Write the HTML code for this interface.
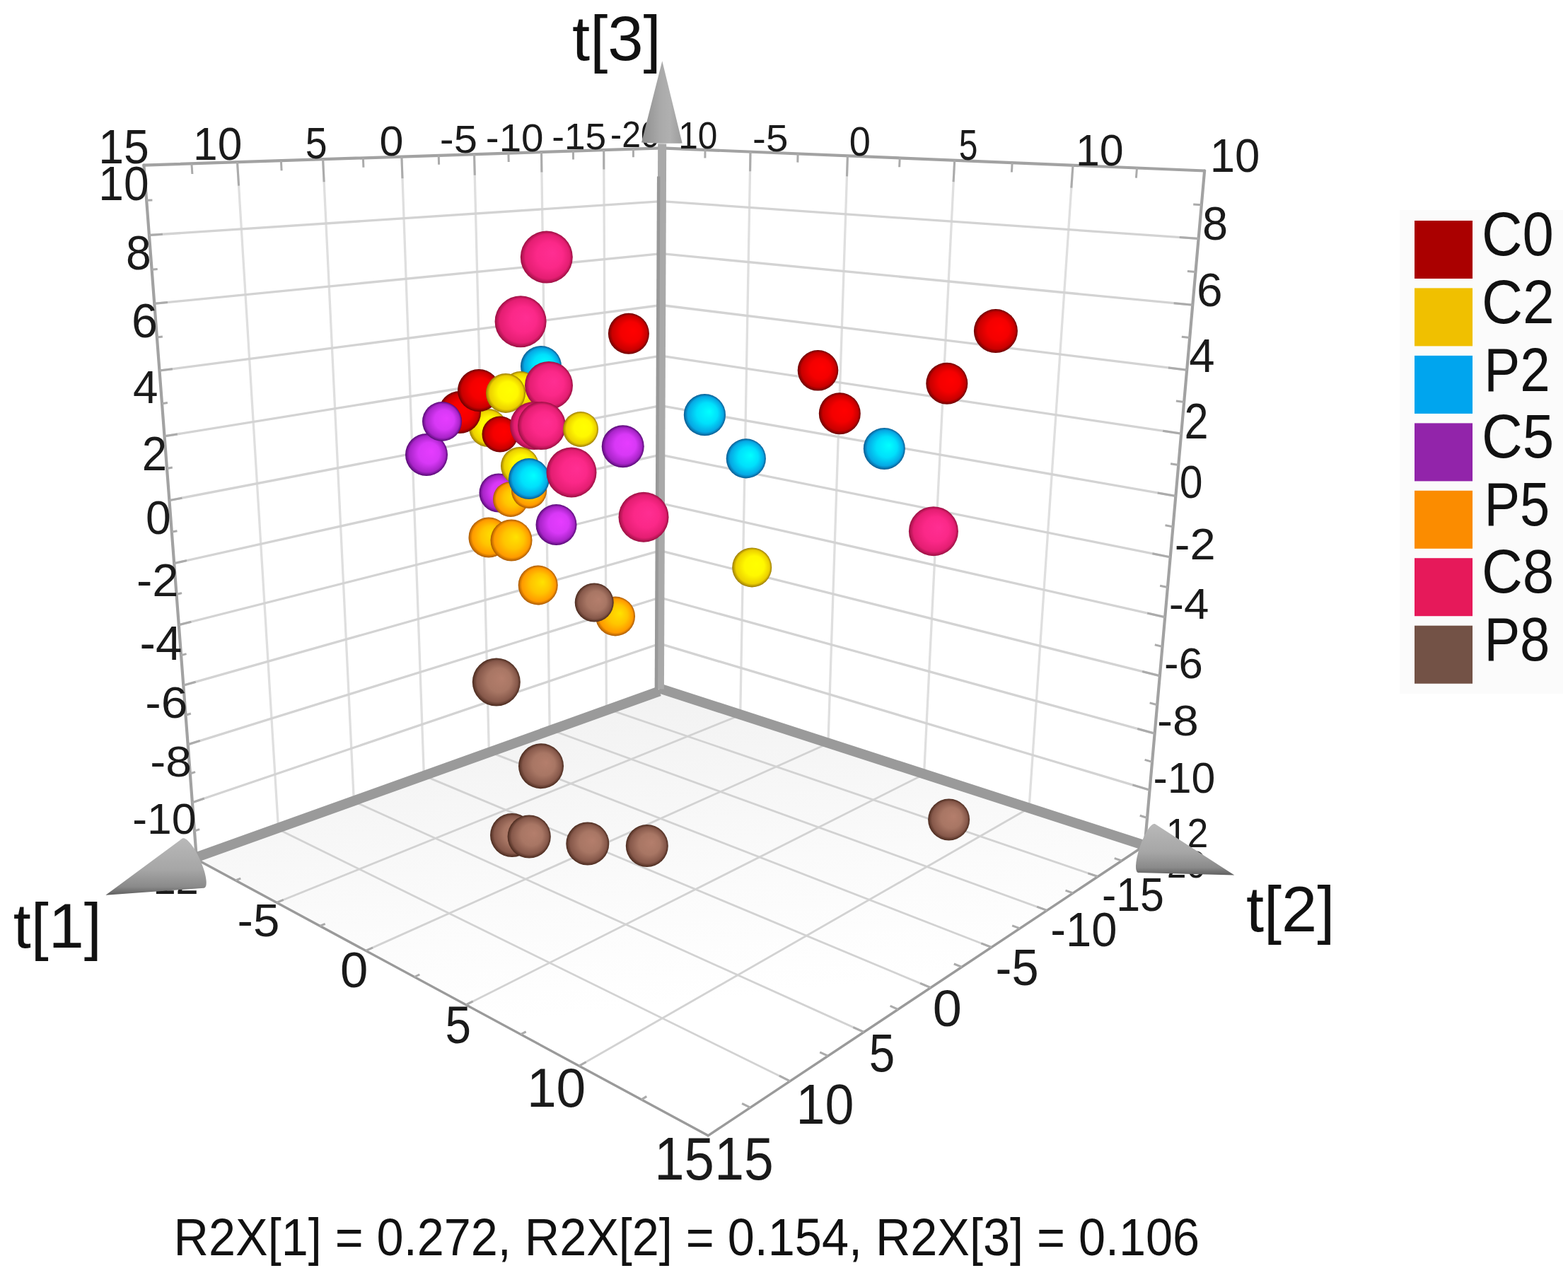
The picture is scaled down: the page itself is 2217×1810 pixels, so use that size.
<!DOCTYPE html>
<html><head><meta charset="utf-8"><title>3D score plot</title>
<style>html,body{margin:0;padding:0;background:#fff;} svg{display:block;} text{font-family:"Liberation Sans",Arial,sans-serif;}</style>
</head><body>
<svg width="2217" height="1810" viewBox="0 0 2217 1810">
<defs>
<linearGradient id="floorg" gradientUnits="userSpaceOnUse" x1="932.4" y1="974.4" x2="1001.2" y2="1605.8"><stop offset="0" stop-color="#f2f2f2"/><stop offset="0.45" stop-color="#fbfbfb"/><stop offset="0.7" stop-color="#ffffff"/></linearGradient>
<linearGradient id="cg1" x1="0" y1="0" x2="0" y2="1"><stop offset="0" stop-color="#b9b9b9"/><stop offset="0.55" stop-color="#a6a6a6"/><stop offset="0.85" stop-color="#8a8a8a"/><stop offset="1" stop-color="#5e5e5e"/></linearGradient>
<linearGradient id="cg2" x1="0" y1="0" x2="0" y2="1"><stop offset="0" stop-color="#b9b9b9"/><stop offset="0.55" stop-color="#a6a6a6"/><stop offset="0.85" stop-color="#8a8a8a"/><stop offset="1" stop-color="#5e5e5e"/></linearGradient>
<linearGradient id="cg3" x1="0" y1="0" x2="1" y2="0"><stop offset="0" stop-color="#8e8e8e"/><stop offset="0.45" stop-color="#a9a9a9"/><stop offset="0.7" stop-color="#b0b0b0"/><stop offset="1" stop-color="#9c9c9c"/></linearGradient>
<radialGradient id="gC0" cx="0.5" cy="0.5" r="0.5" fx="0.62" fy="0.42"><stop offset="0" stop-color="#ff0000"/><stop offset="0.5" stop-color="#f40000"/><stop offset="0.85" stop-color="#c80000"/><stop offset="1" stop-color="#6a0000"/></radialGradient>
<radialGradient id="gC2" cx="0.5" cy="0.5" r="0.5" fx="0.62" fy="0.42"><stop offset="0" stop-color="#ffff00"/><stop offset="0.5" stop-color="#fff800"/><stop offset="0.85" stop-color="#ecd000"/><stop offset="1" stop-color="#9a7a00"/></radialGradient>
<radialGradient id="gP2" cx="0.5" cy="0.5" r="0.5" fx="0.62" fy="0.42"><stop offset="0" stop-color="#00ffff"/><stop offset="0.5" stop-color="#00e0fc"/><stop offset="0.85" stop-color="#06a8e4"/><stop offset="1" stop-color="#0a5a90"/></radialGradient>
<radialGradient id="gC5" cx="0.5" cy="0.5" r="0.5" fx="0.62" fy="0.42"><stop offset="0" stop-color="#e63cff"/><stop offset="0.5" stop-color="#d838f6"/><stop offset="0.85" stop-color="#a824c8"/><stop offset="1" stop-color="#560a74"/></radialGradient>
<radialGradient id="gP5" cx="0.5" cy="0.5" r="0.5" fx="0.62" fy="0.42"><stop offset="0" stop-color="#ffe200"/><stop offset="0.5" stop-color="#ffc400"/><stop offset="0.85" stop-color="#ff9a00"/><stop offset="1" stop-color="#a85800"/></radialGradient>
<radialGradient id="gC8" cx="0.5" cy="0.5" r="0.5" fx="0.62" fy="0.42"><stop offset="0" stop-color="#ff2e92"/><stop offset="0.5" stop-color="#fb2888"/><stop offset="0.85" stop-color="#e41e72"/><stop offset="1" stop-color="#9a1042"/></radialGradient>
<radialGradient id="gP8" cx="0.5" cy="0.5" r="0.5" fx="0.62" fy="0.42"><stop offset="0" stop-color="#b47e6c"/><stop offset="0.5" stop-color="#a87664"/><stop offset="0.85" stop-color="#86584a"/><stop offset="1" stop-color="#4a2a1e"/></radialGradient>
</defs>
<rect width="2217" height="1810" fill="#ffffff"/>
<polygon points="932.4,974.4 278.0,1215.2 1001.2,1605.8 1618.6,1195.5" fill="url(#floorg)"/>
<line x1="393.6" y1="1172.7" x2="335.5" y2="229.2" stroke="#dfdfdf" stroke-width="3.3"/>
<line x1="500.4" y1="1133.4" x2="456.6" y2="225.2" stroke="#dfdfdf" stroke-width="3.3"/>
<line x1="599.4" y1="1096.9" x2="567.9" y2="221.5" stroke="#dfdfdf" stroke-width="3.3"/>
<line x1="691.4" y1="1063.1" x2="670.5" y2="218.2" stroke="#dfdfdf" stroke-width="3.3"/>
<line x1="777.2" y1="1031.5" x2="765.5" y2="215.0" stroke="#dfdfdf" stroke-width="3.3"/>
<line x1="857.4" y1="1002.0" x2="853.7" y2="212.1" stroke="#dfdfdf" stroke-width="3.3"/>
<line x1="271.9" y1="1134.8" x2="932.7" y2="910.2" stroke="#d3d3d3" stroke-width="3.3"/>
<line x1="265.7" y1="1052.8" x2="933.0" y2="845.0" stroke="#d3d3d3" stroke-width="3.3"/>
<line x1="259.3" y1="969.1" x2="933.3" y2="778.7" stroke="#d3d3d3" stroke-width="3.3"/>
<line x1="252.8" y1="883.7" x2="933.6" y2="711.5" stroke="#d3d3d3" stroke-width="3.3"/>
<line x1="246.2" y1="796.6" x2="933.9" y2="643.2" stroke="#d3d3d3" stroke-width="3.3"/>
<line x1="239.4" y1="707.6" x2="934.2" y2="573.7" stroke="#d3d3d3" stroke-width="3.3"/>
<line x1="232.5" y1="616.8" x2="934.5" y2="503.2" stroke="#d3d3d3" stroke-width="3.3"/>
<line x1="225.5" y1="524.1" x2="934.8" y2="431.5" stroke="#d3d3d3" stroke-width="3.3"/>
<line x1="218.3" y1="429.3" x2="935.1" y2="358.7" stroke="#d3d3d3" stroke-width="3.3"/>
<line x1="210.9" y1="332.5" x2="935.4" y2="284.7" stroke="#d3d3d3" stroke-width="3.3"/>
<line x1="1046.7" y1="1011.2" x2="1061.0" y2="214.6" stroke="#dfdfdf" stroke-width="3.3"/>
<line x1="1170.9" y1="1051.2" x2="1198.4" y2="220.4" stroke="#dfdfdf" stroke-width="3.3"/>
<line x1="1306.5" y1="1094.9" x2="1349.7" y2="226.7" stroke="#dfdfdf" stroke-width="3.3"/>
<line x1="1455.0" y1="1142.8" x2="1517.0" y2="233.7" stroke="#dfdfdf" stroke-width="3.3"/>
<line x1="932.7" y1="910.2" x2="1625.5" y2="1117.1" stroke="#d3d3d3" stroke-width="3.3"/>
<line x1="933.0" y1="845.0" x2="1632.6" y2="1037.2" stroke="#d3d3d3" stroke-width="3.3"/>
<line x1="933.3" y1="778.7" x2="1639.8" y2="955.7" stroke="#d3d3d3" stroke-width="3.3"/>
<line x1="933.6" y1="711.5" x2="1647.2" y2="872.7" stroke="#d3d3d3" stroke-width="3.3"/>
<line x1="933.9" y1="643.2" x2="1654.7" y2="787.9" stroke="#d3d3d3" stroke-width="3.3"/>
<line x1="934.2" y1="573.7" x2="1662.4" y2="701.4" stroke="#d3d3d3" stroke-width="3.3"/>
<line x1="934.5" y1="503.2" x2="1670.2" y2="613.2" stroke="#d3d3d3" stroke-width="3.3"/>
<line x1="934.8" y1="431.5" x2="1678.2" y2="523.2" stroke="#d3d3d3" stroke-width="3.3"/>
<line x1="935.1" y1="358.7" x2="1686.3" y2="431.2" stroke="#d3d3d3" stroke-width="3.3"/>
<line x1="935.4" y1="284.7" x2="1694.6" y2="337.4" stroke="#d3d3d3" stroke-width="3.3"/>
<line x1="393.6" y1="1172.7" x2="1117.1" y2="1528.8" stroke="#d2d2d2" stroke-width="2.8"/>
<line x1="500.4" y1="1133.4" x2="1221.4" y2="1459.4" stroke="#d2d2d2" stroke-width="2.8"/>
<line x1="599.4" y1="1096.9" x2="1315.9" y2="1396.6" stroke="#d2d2d2" stroke-width="2.8"/>
<line x1="691.4" y1="1063.1" x2="1401.8" y2="1339.5" stroke="#d2d2d2" stroke-width="2.8"/>
<line x1="777.2" y1="1031.5" x2="1480.3" y2="1287.4" stroke="#d2d2d2" stroke-width="2.8"/>
<line x1="857.4" y1="1002.0" x2="1552.3" y2="1239.5" stroke="#d2d2d2" stroke-width="2.8"/>
<line x1="391.1" y1="1276.3" x2="1046.7" y2="1011.2" stroke="#d2d2d2" stroke-width="2.8"/>
<line x1="517.2" y1="1344.4" x2="1170.9" y2="1051.2" stroke="#d2d2d2" stroke-width="2.8"/>
<line x1="658.8" y1="1420.9" x2="1306.5" y2="1094.9" stroke="#d2d2d2" stroke-width="2.8"/>
<line x1="818.8" y1="1507.3" x2="1455.0" y2="1142.8" stroke="#d2d2d2" stroke-width="2.8"/>
<line x1="203.4" y1="233.6" x2="935.7" y2="209.4" stroke="#a2a2a2" stroke-width="4.2" stroke-linecap="round"/>
<line x1="278.0" y1="1215.2" x2="203.4" y2="233.6" stroke="#a2a2a2" stroke-width="4.2" stroke-linecap="round"/>
<line x1="935.7" y1="209.4" x2="1703.1" y2="241.5" stroke="#a2a2a2" stroke-width="4.2" stroke-linecap="round"/>
<line x1="1618.6" y1="1195.5" x2="1703.1" y2="241.5" stroke="#a2a2a2" stroke-width="4.2" stroke-linecap="round"/>
<line x1="278.0" y1="1215.2" x2="1001.2" y2="1605.8" stroke="#9a9a9a" stroke-width="3.4" stroke-linecap="round"/>
<line x1="1001.2" y1="1605.8" x2="1618.6" y2="1195.5" stroke="#9a9a9a" stroke-width="3.4" stroke-linecap="round"/>
<line x1="270.9" y1="231.4" x2="271.9" y2="246.0" stroke="#ababab" stroke-width="3"/>
<line x1="335.5" y1="229.2" x2="337.6" y2="262.6" stroke="#ababab" stroke-width="3"/>
<line x1="397.4" y1="227.2" x2="398.1" y2="241.2" stroke="#ababab" stroke-width="3"/>
<line x1="456.6" y1="225.2" x2="458.1" y2="257.2" stroke="#ababab" stroke-width="3"/>
<line x1="513.4" y1="223.4" x2="513.9" y2="236.8" stroke="#ababab" stroke-width="3"/>
<line x1="567.9" y1="221.5" x2="569.0" y2="252.3" stroke="#ababab" stroke-width="3"/>
<line x1="620.2" y1="219.8" x2="620.6" y2="232.7" stroke="#ababab" stroke-width="3"/>
<line x1="670.5" y1="218.2" x2="671.3" y2="247.7" stroke="#ababab" stroke-width="3"/>
<line x1="718.9" y1="216.6" x2="719.2" y2="229.0" stroke="#ababab" stroke-width="3"/>
<line x1="765.5" y1="215.0" x2="765.9" y2="243.5" stroke="#ababab" stroke-width="3"/>
<line x1="810.4" y1="213.5" x2="810.5" y2="225.5" stroke="#ababab" stroke-width="3"/>
<line x1="853.7" y1="212.1" x2="853.8" y2="239.5" stroke="#ababab" stroke-width="3"/>
<line x1="895.4" y1="210.7" x2="895.4" y2="222.3" stroke="#ababab" stroke-width="3"/>
<line x1="207.2" y1="283.3" x2="215.4" y2="282.9" stroke="#ababab" stroke-width="3"/>
<line x1="210.9" y1="332.5" x2="229.9" y2="331.3" stroke="#ababab" stroke-width="3"/>
<line x1="214.6" y1="381.2" x2="222.7" y2="380.5" stroke="#ababab" stroke-width="3"/>
<line x1="218.3" y1="429.3" x2="237.0" y2="427.5" stroke="#ababab" stroke-width="3"/>
<line x1="221.9" y1="477.0" x2="229.9" y2="476.0" stroke="#ababab" stroke-width="3"/>
<line x1="225.5" y1="524.1" x2="243.9" y2="521.7" stroke="#ababab" stroke-width="3"/>
<line x1="229.0" y1="570.7" x2="236.9" y2="569.5" stroke="#ababab" stroke-width="3"/>
<line x1="232.5" y1="616.8" x2="250.8" y2="613.9" stroke="#ababab" stroke-width="3"/>
<line x1="236.0" y1="662.5" x2="243.8" y2="661.1" stroke="#ababab" stroke-width="3"/>
<line x1="239.4" y1="707.6" x2="257.4" y2="704.2" stroke="#ababab" stroke-width="3"/>
<line x1="242.8" y1="752.3" x2="250.5" y2="750.7" stroke="#ababab" stroke-width="3"/>
<line x1="246.2" y1="796.6" x2="264.0" y2="792.6" stroke="#ababab" stroke-width="3"/>
<line x1="249.5" y1="840.4" x2="257.1" y2="838.6" stroke="#ababab" stroke-width="3"/>
<line x1="252.8" y1="883.7" x2="270.4" y2="879.3" stroke="#ababab" stroke-width="3"/>
<line x1="256.1" y1="926.6" x2="263.6" y2="924.6" stroke="#ababab" stroke-width="3"/>
<line x1="259.3" y1="969.1" x2="276.7" y2="964.2" stroke="#ababab" stroke-width="3"/>
<line x1="262.5" y1="1011.2" x2="269.9" y2="1009.0" stroke="#ababab" stroke-width="3"/>
<line x1="265.7" y1="1052.8" x2="282.8" y2="1047.4" stroke="#ababab" stroke-width="3"/>
<line x1="268.8" y1="1094.0" x2="276.1" y2="1091.6" stroke="#ababab" stroke-width="3"/>
<line x1="271.9" y1="1134.8" x2="288.8" y2="1129.0" stroke="#ababab" stroke-width="3"/>
<line x1="275.0" y1="1175.2" x2="282.2" y2="1172.6" stroke="#ababab" stroke-width="3"/>
<line x1="997.0" y1="212.0" x2="996.9" y2="223.6" stroke="#ababab" stroke-width="3"/>
<line x1="1061.0" y1="214.6" x2="1060.6" y2="242.3" stroke="#ababab" stroke-width="3"/>
<line x1="1128.1" y1="217.4" x2="1127.8" y2="229.6" stroke="#ababab" stroke-width="3"/>
<line x1="1198.4" y1="220.4" x2="1197.5" y2="249.4" stroke="#ababab" stroke-width="3"/>
<line x1="1272.2" y1="223.5" x2="1271.6" y2="236.2" stroke="#ababab" stroke-width="3"/>
<line x1="1349.7" y1="226.7" x2="1348.1" y2="257.1" stroke="#ababab" stroke-width="3"/>
<line x1="1431.2" y1="230.1" x2="1430.4" y2="243.5" stroke="#ababab" stroke-width="3"/>
<line x1="1517.0" y1="233.7" x2="1514.8" y2="265.7" stroke="#ababab" stroke-width="3"/>
<line x1="1607.5" y1="237.5" x2="1606.4" y2="251.6" stroke="#ababab" stroke-width="3"/>
<line x1="1698.9" y1="289.7" x2="1687.2" y2="289.0" stroke="#ababab" stroke-width="3"/>
<line x1="1694.6" y1="337.4" x2="1667.7" y2="335.5" stroke="#ababab" stroke-width="3"/>
<line x1="1690.4" y1="384.5" x2="1678.9" y2="383.6" stroke="#ababab" stroke-width="3"/>
<line x1="1686.3" y1="431.2" x2="1659.7" y2="428.7" stroke="#ababab" stroke-width="3"/>
<line x1="1682.2" y1="477.4" x2="1670.8" y2="476.2" stroke="#ababab" stroke-width="3"/>
<line x1="1678.2" y1="523.2" x2="1651.9" y2="519.9" stroke="#ababab" stroke-width="3"/>
<line x1="1674.1" y1="568.4" x2="1662.9" y2="566.9" stroke="#ababab" stroke-width="3"/>
<line x1="1670.2" y1="613.2" x2="1644.2" y2="609.3" stroke="#ababab" stroke-width="3"/>
<line x1="1666.2" y1="657.5" x2="1655.1" y2="655.7" stroke="#ababab" stroke-width="3"/>
<line x1="1662.4" y1="701.4" x2="1636.7" y2="696.9" stroke="#ababab" stroke-width="3"/>
<line x1="1658.5" y1="744.9" x2="1647.5" y2="742.8" stroke="#ababab" stroke-width="3"/>
<line x1="1654.7" y1="787.9" x2="1629.4" y2="782.8" stroke="#ababab" stroke-width="3"/>
<line x1="1650.9" y1="830.5" x2="1640.1" y2="828.2" stroke="#ababab" stroke-width="3"/>
<line x1="1647.2" y1="872.7" x2="1622.2" y2="867.0" stroke="#ababab" stroke-width="3"/>
<line x1="1643.5" y1="914.4" x2="1632.8" y2="911.8" stroke="#ababab" stroke-width="3"/>
<line x1="1639.8" y1="955.7" x2="1615.1" y2="949.5" stroke="#ababab" stroke-width="3"/>
<line x1="1636.2" y1="996.7" x2="1625.6" y2="993.9" stroke="#ababab" stroke-width="3"/>
<line x1="1632.6" y1="1037.2" x2="1608.2" y2="1030.5" stroke="#ababab" stroke-width="3"/>
<line x1="1629.0" y1="1077.4" x2="1618.6" y2="1074.4" stroke="#ababab" stroke-width="3"/>
<line x1="1625.5" y1="1117.1" x2="1601.4" y2="1109.9" stroke="#ababab" stroke-width="3"/>
<line x1="1622.0" y1="1156.5" x2="1611.7" y2="1153.3" stroke="#ababab" stroke-width="3"/>
<line x1="333.1" y1="1244.9" x2="340.3" y2="1242.1" stroke="#ababab" stroke-width="3"/>
<line x1="391.1" y1="1276.3" x2="400.8" y2="1272.4" stroke="#ababab" stroke-width="3"/>
<line x1="452.4" y1="1309.4" x2="459.7" y2="1306.3" stroke="#ababab" stroke-width="3"/>
<line x1="517.2" y1="1344.4" x2="527.1" y2="1340.0" stroke="#ababab" stroke-width="3"/>
<line x1="585.9" y1="1381.5" x2="593.3" y2="1378.0" stroke="#ababab" stroke-width="3"/>
<line x1="658.8" y1="1420.9" x2="668.7" y2="1415.9" stroke="#ababab" stroke-width="3"/>
<line x1="736.3" y1="1462.7" x2="743.7" y2="1458.8" stroke="#ababab" stroke-width="3"/>
<line x1="818.8" y1="1507.3" x2="828.7" y2="1501.7" stroke="#ababab" stroke-width="3"/>
<line x1="906.9" y1="1554.9" x2="914.3" y2="1550.4" stroke="#ababab" stroke-width="3"/>
<line x1="1060.7" y1="1566.2" x2="1049.1" y2="1560.3" stroke="#ababab" stroke-width="3"/>
<line x1="1117.1" y1="1528.8" x2="1101.8" y2="1521.2" stroke="#ababab" stroke-width="3"/>
<line x1="1170.6" y1="1493.2" x2="1159.2" y2="1487.8" stroke="#ababab" stroke-width="3"/>
<line x1="1221.4" y1="1459.4" x2="1206.3" y2="1452.6" stroke="#ababab" stroke-width="3"/>
<line x1="1269.8" y1="1427.3" x2="1258.6" y2="1422.4" stroke="#ababab" stroke-width="3"/>
<line x1="1315.9" y1="1396.6" x2="1301.1" y2="1390.4" stroke="#ababab" stroke-width="3"/>
<line x1="1359.9" y1="1367.4" x2="1348.8" y2="1363.0" stroke="#ababab" stroke-width="3"/>
<line x1="1401.8" y1="1339.5" x2="1387.3" y2="1333.9" stroke="#ababab" stroke-width="3"/>
<line x1="1442.0" y1="1312.9" x2="1431.1" y2="1308.8" stroke="#ababab" stroke-width="3"/>
<line x1="1480.3" y1="1287.4" x2="1466.1" y2="1282.2" stroke="#ababab" stroke-width="3"/>
<line x1="1517.1" y1="1262.9" x2="1506.5" y2="1259.2" stroke="#ababab" stroke-width="3"/>
<line x1="1552.3" y1="1239.5" x2="1538.3" y2="1234.8" stroke="#ababab" stroke-width="3"/>
<line x1="1586.1" y1="1217.1" x2="1575.7" y2="1213.6" stroke="#ababab" stroke-width="3"/>
<text transform="translate(139.3,231.1) scale(0.938,1)" font-size="68.6" fill="#1a1a1a">15</text>
<text transform="translate(273.1,226.4) scale(0.956,1)" font-size="65.1" fill="#1a1a1a">10</text>
<text transform="translate(431.8,223.7) scale(0.894,1)" font-size="62.0" fill="#1a1a1a">5</text>
<text transform="translate(536.4,219.6) scale(1.022,1)" font-size="59.7" fill="#1a1a1a">0</text>
<text transform="translate(621.8,215.8) scale(1.082,1)" font-size="55.2" fill="#1a1a1a">-5</text>
<text transform="translate(686.8,214.0) scale(1.012,1)" font-size="55.9" fill="#1a1a1a">-10</text>
<text transform="translate(780.2,211.2) scale(1.012,1)" font-size="52.6" fill="#1a1a1a">-15</text>
<text transform="translate(863.1,208.4) scale(0.930,1)" font-size="51.8" fill="#1a1a1a">-20</text>
<text transform="translate(139.3,282.9) scale(0.946,1)" font-size="67.8" fill="#1a1a1a">10</text>
<text transform="translate(178.1,380.7) scale(0.931,1)" font-size="69.1" fill="#1a1a1a">8</text>
<text transform="translate(186.1,477.4) scale(0.969,1)" font-size="68.4" fill="#1a1a1a">6</text>
<text transform="translate(188.0,570.0) scale(0.972,1)" font-size="65.7" fill="#1a1a1a">4</text>
<text transform="translate(200.7,665.2) scale(0.917,1)" font-size="69.3" fill="#1a1a1a">2</text>
<text transform="translate(206.1,754.8) scale(0.972,1)" font-size="66.1" fill="#1a1a1a">0</text>
<text transform="translate(192.9,842.6) scale(1.032,1)" font-size="64.8" fill="#1a1a1a">-2</text>
<text transform="translate(197.6,932.9) scale(0.989,1)" font-size="68.0" fill="#1a1a1a">-4</text>
<text transform="translate(205.3,1015.1) scale(1.061,1)" font-size="63.6" fill="#1a1a1a">-6</text>
<text transform="translate(212.3,1098.0) scale(1.068,1)" font-size="61.9" fill="#1a1a1a">-8</text>
<text transform="translate(187.2,1178.7) scale(1.036,1)" font-size="60.3" fill="#1a1a1a">-10</text>
<text transform="translate(197.1,1263.5) scale(0.930,1)" font-size="62.3" fill="#1a1a1a">-12</text>
<text transform="translate(942.6,209.5) scale(0.930,1)" font-size="53.4" fill="#1a1a1a">-10</text>
<text transform="translate(1064.1,213.9) scale(1.040,1)" font-size="54.3" fill="#1a1a1a">-5</text>
<text transform="translate(1200.7,220.2) scale(0.959,1)" font-size="56.5" fill="#1a1a1a">0</text>
<text transform="translate(1355.7,225.7) scale(0.792,1)" font-size="60.5" fill="#1a1a1a">5</text>
<text transform="translate(1521.0,233.9) scale(0.971,1)" font-size="62.7" fill="#1a1a1a">10</text>
<text transform="translate(1710.8,242.6) scale(0.961,1)" font-size="66.1" fill="#1a1a1a">10</text>
<text transform="translate(1700.1,338.9) scale(0.981,1)" font-size="66.2" fill="#1a1a1a">8</text>
<text transform="translate(1692.1,432.7) scale(0.993,1)" font-size="66.2" fill="#1a1a1a">6</text>
<text transform="translate(1681.3,525.8) scale(0.985,1)" font-size="66.3" fill="#1a1a1a">4</text>
<text transform="translate(1674.5,619.8) scale(0.861,1)" font-size="71.1" fill="#1a1a1a">2</text>
<text transform="translate(1667.7,704.2) scale(0.905,1)" font-size="65.0" fill="#1a1a1a">0</text>
<text transform="translate(1660.8,791.2) scale(1.039,1)" font-size="62.6" fill="#1a1a1a">-2</text>
<text transform="translate(1652.8,875.3) scale(1.027,1)" font-size="61.9" fill="#1a1a1a">-4</text>
<text transform="translate(1646.0,958.8) scale(1.000,1)" font-size="61.7" fill="#1a1a1a">-6</text>
<text transform="translate(1636.0,1040.4) scale(1.098,1)" font-size="60.2" fill="#1a1a1a">-8</text>
<text transform="translate(1630.5,1121.1) scale(0.982,1)" font-size="61.9" fill="#1a1a1a">-10</text>
<text transform="translate(1630.8,1197.7) scale(0.930,1)" font-size="57.7" fill="#1a1a1a">-12</text>
<text transform="translate(335.5,1323.8) scale(1.046,1)" font-size="64.3" fill="#1a1a1a">-5</text>
<text transform="translate(481.1,1396.1) scale(1.013,1)" font-size="69.8" fill="#1a1a1a">0</text>
<text transform="translate(629.4,1475.1) scale(0.877,1)" font-size="74.8" fill="#1a1a1a">5</text>
<text transform="translate(744.9,1565.3) scale(0.963,1)" font-size="77.8" fill="#1a1a1a">10</text>
<text transform="translate(925.2,1668.1) scale(0.885,1)" font-size="86.0" fill="#1a1a1a">15</text>
<text transform="translate(1010.2,1668.1) scale(0.872,1)" font-size="86.0" fill="#1a1a1a">15</text>
<text transform="translate(1125.6,1588.7) scale(0.922,1)" font-size="79.8" fill="#1a1a1a">10</text>
<text transform="translate(1228.8,1515.3) scale(0.854,1)" font-size="76.8" fill="#1a1a1a">5</text>
<text transform="translate(1318.7,1450.5) scale(1.029,1)" font-size="71.8" fill="#1a1a1a">0</text>
<text transform="translate(1407.6,1392.6) scale(0.942,1)" font-size="72.8" fill="#1a1a1a">-5</text>
<text transform="translate(1485.3,1337.6) scale(0.961,1)" font-size="67.8" fill="#1a1a1a">-10</text>
<text transform="translate(1557.9,1288.0) scale(0.923,1)" font-size="66.0" fill="#1a1a1a">-15</text>
<text transform="translate(1633.6,1241.0) scale(0.930,1)" font-size="53.0" fill="#1a1a1a">-20</text>
<line x1="932.4" y1="977.4" x2="278.0" y2="1212.2" stroke="#9a9a9a" stroke-width="14" stroke-linecap="butt"/>
<line x1="932.4" y1="973.4" x2="1618.6" y2="1195.5" stroke="#9a9a9a" stroke-width="14" stroke-linecap="butt"/>
<line x1="932.9" y1="974.4" x2="936.2" y2="203.4" stroke="#a9a9a9" stroke-width="12" stroke-linecap="butt"/>
<line x1="927.9" y1="974.4" x2="931.2" y2="249.4" stroke="#989898" stroke-width="4.5" stroke-linecap="butt"/>
<circle cx="772.8" cy="363.6" r="37.0" fill="url(#gC8)"/>
<circle cx="736.1" cy="454.7" r="36.5" fill="url(#gC8)"/>
<circle cx="888.9" cy="471.8" r="29.0" fill="url(#gC0)"/>
<circle cx="765.0" cy="518.0" r="29.0" fill="url(#gP2)"/>
<circle cx="690.0" cy="605.0" r="27.0" fill="url(#gC2)"/>
<circle cx="650.0" cy="583.0" r="30.0" fill="url(#gC0)"/>
<circle cx="736.0" cy="551.0" r="26.0" fill="url(#gC2)"/>
<circle cx="677.0" cy="552.0" r="30.0" fill="url(#gC0)"/>
<circle cx="715.0" cy="556.0" r="28.0" fill="url(#gC2)"/>
<circle cx="776.0" cy="545.0" r="34.0" fill="url(#gC8)"/>
<circle cx="603.0" cy="643.0" r="30.0" fill="url(#gC5)"/>
<circle cx="625.0" cy="596.0" r="28.0" fill="url(#gC5)"/>
<circle cx="707.0" cy="614.0" r="25.5" fill="url(#gC0)"/>
<circle cx="755.0" cy="602.0" r="34.0" fill="url(#gC8)"/>
<circle cx="766.0" cy="602.0" r="34.0" fill="url(#gC8)"/>
<circle cx="821.0" cy="607.0" r="25.0" fill="url(#gC2)"/>
<circle cx="880.7" cy="631.3" r="30.0" fill="url(#gC5)"/>
<circle cx="705.0" cy="697.0" r="27.5" fill="url(#gC5)"/>
<circle cx="735.0" cy="659.0" r="27.0" fill="url(#gC2)"/>
<circle cx="722.0" cy="706.0" r="25.0" fill="url(#gP5)"/>
<circle cx="748.0" cy="694.0" r="25.0" fill="url(#gP5)"/>
<circle cx="748.0" cy="677.0" r="29.0" fill="url(#gP2)"/>
<circle cx="808.0" cy="668.0" r="35.5" fill="url(#gC8)"/>
<circle cx="691.0" cy="760.0" r="28.5" fill="url(#gP5)"/>
<circle cx="723.0" cy="764.0" r="29.5" fill="url(#gP5)"/>
<circle cx="786.5" cy="742.0" r="29.0" fill="url(#gC5)"/>
<circle cx="870.0" cy="871.5" r="28.0" fill="url(#gP5)"/>
<circle cx="840.2" cy="852.0" r="27.5" fill="url(#gP8)"/>
<circle cx="760.7" cy="827.5" r="28.0" fill="url(#gP5)"/>
<circle cx="701.8" cy="964.5" r="34.0" fill="url(#gP8)"/>
<circle cx="765.0" cy="1083.3" r="32.0" fill="url(#gP8)"/>
<circle cx="724.0" cy="1181.0" r="31.0" fill="url(#gP8)"/>
<circle cx="748.2" cy="1183.0" r="30.6" fill="url(#gP8)"/>
<circle cx="830.8" cy="1193.0" r="30.5" fill="url(#gP8)"/>
<circle cx="914.8" cy="1196.0" r="30.0" fill="url(#gP8)"/>
<circle cx="1341.6" cy="1159.0" r="29.5" fill="url(#gP8)"/>
<circle cx="1156.5" cy="523.8" r="28.8" fill="url(#gC0)"/>
<circle cx="1187.3" cy="584.7" r="29.5" fill="url(#gC0)"/>
<circle cx="996.4" cy="586.7" r="29.6" fill="url(#gP2)"/>
<circle cx="1054.8" cy="648.4" r="28.1" fill="url(#gP2)"/>
<circle cx="1250.3" cy="634.4" r="29.5" fill="url(#gP2)"/>
<circle cx="1407.9" cy="468.1" r="31.0" fill="url(#gC0)"/>
<circle cx="1338.8" cy="542.2" r="29.5" fill="url(#gC0)"/>
<circle cx="1063.2" cy="802.4" r="28.0" fill="url(#gC2)"/>
<circle cx="1319.9" cy="751.2" r="35.0" fill="url(#gC8)"/>
<polygon points="149.4,1265.8 257.2,1186.0 258.0,1185.5 258.9,1185.3 259.9,1185.3 261.0,1185.6 262.2,1186.2 263.5,1187.0 264.9,1188.1 266.3,1189.4 267.8,1191.0 269.3,1192.7 270.9,1194.8 272.5,1196.9 274.1,1199.3 275.6,1201.8 277.2,1204.5 278.8,1207.3 280.3,1210.2 281.7,1213.2 283.1,1216.2 284.4,1219.3 285.6,1222.4 286.8,1225.5 287.8,1228.5 288.8,1231.4 289.6,1234.3 290.2,1237.1 290.8,1239.7 291.2,1242.2 291.5,1244.6 291.7,1246.7 291.7,1248.7 291.6,1250.4 291.4,1251.9 291.0,1253.2 290.4,1254.2 289.8,1255.0 289.0,1255.5 288.1,1255.7" fill="url(#cg1)"/>
<polygon points="1606.0,1226.0 1606.0,1223.9 1606.2,1221.7 1606.4,1219.3 1606.8,1216.7 1607.2,1214.0 1607.8,1211.2 1608.5,1208.4 1609.2,1205.4 1610.1,1202.4 1611.0,1199.4 1612.0,1196.4 1613.1,1193.4 1614.2,1190.4 1615.4,1187.6 1616.7,1184.8 1617.9,1182.1 1619.2,1179.5 1620.5,1177.2 1621.8,1174.9 1623.1,1172.9 1624.4,1171.1 1625.7,1169.5 1626.9,1168.1 1628.1,1166.9 1629.2,1166.0 1630.3,1165.4 1631.3,1165.0 1632.2,1164.9 1633.0,1165.0 1633.7,1165.4 1745.3,1237.6 1609.8,1234.1 1609.0,1234.0 1608.3,1233.6 1607.6,1232.9 1607.1,1232.0 1606.7,1230.8 1606.3,1229.5 1606.1,1227.8" fill="url(#cg2)"/>
<polygon points="907.1,201.3 936.3,86.3 964.6,202.3 964.5,202.4 964.3,202.5 963.8,202.5 963.1,202.6 962.1,202.7 961.0,202.7 959.7,202.7 958.2,202.8 956.5,202.8 954.7,202.8 952.7,202.8 950.5,202.8 948.3,202.8 946.0,202.8 943.6,202.8 938.6,202.8 933.5,202.7 931.0,202.6 928.5,202.6 926.1,202.5 923.8,202.4 921.5,202.3 919.4,202.2 915.5,202.1 913.8,202.0 912.3,201.9 911.0,201.8 909.8,201.7 908.8,201.6 908.1,201.5 907.5,201.4 907.2,201.4" fill="url(#cg3)"/>
<circle cx="910.0" cy="731.2" r="35.5" fill="url(#gC8)"/>
<rect x="1979" y="297" width="231" height="684" fill="#fbfbfb"/>
<rect x="2000" y="312.0" width="82" height="82" fill="#aa0000"/>
<text transform="translate(2095.0,361.0) scale(0.924,1)" font-size="86.2" fill="#111">C0</text>
<rect x="2000" y="407.4" width="82" height="82" fill="#f0c000"/>
<text transform="translate(2095.0,456.5) scale(0.933,1)" font-size="86.2" fill="#111">C2</text>
<rect x="2000" y="502.9" width="82" height="82" fill="#00a5ee"/>
<text transform="translate(2098.3,552.8) scale(0.874,1)" font-size="87.4" fill="#111">P2</text>
<rect x="2000" y="598.4" width="82" height="82" fill="#9224aa"/>
<text transform="translate(2095.0,647.4) scale(0.927,1)" font-size="86.2" fill="#111">C5</text>
<rect x="2000" y="693.8" width="82" height="82" fill="#fb8c00"/>
<text transform="translate(2098.4,742.8) scale(0.868,1)" font-size="87.4" fill="#111">P5</text>
<rect x="2000" y="789.2" width="82" height="82" fill="#e6195a"/>
<text transform="translate(2095.0,838.3) scale(0.928,1)" font-size="86.2" fill="#111">C8</text>
<rect x="2000" y="884.7" width="82" height="82" fill="#735246"/>
<text transform="translate(2098.4,933.7) scale(0.882,1)" font-size="86.2" fill="#111">P8</text>
<text transform="translate(18.8,1340.3) scale(1.013,1)" font-size="88.8" fill="#111">t[1]</text>
<text transform="translate(1762.0,1316.8) scale(0.990,1)" font-size="91.1" fill="#111">t[2]</text>
<text transform="translate(809.1,84.7) scale(1.015,1)" font-size="89.0" fill="#111">t[3]</text>
<text transform="translate(245.6,1775.3) scale(0.912,1)" font-size="75.0" fill="#111">R2X[1] = 0.272, R2X[2] = 0.154, R2X[3] = 0.106</text>
</svg>
</body></html>
